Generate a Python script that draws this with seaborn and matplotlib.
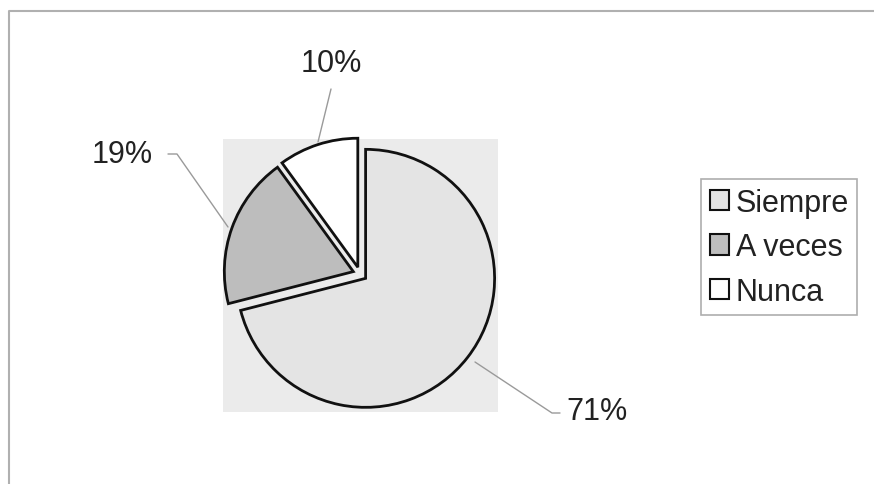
import matplotlib
matplotlib.use("Agg")
import matplotlib.pyplot as plt
import seaborn as sns

# data
categories = ["Siempre", "A veces", "Nunca"]
values = [71, 19, 10]
colors = ["#e4e4e4", "#bdbdbd", "#ffffff"]

W, H = 874, 485
R = 129.0           # pie radius in pixels
CX, CY = 360, 275   # pie centre in pixels (from top)

sns.set_style("white")
plt.rcParams["font.family"] = ["Liberation Sans", "DejaVu Sans"]


def px(x, y):
    # pixel coords (top-left origin) -> data units (radius = 1)
    return (x - CX) / R, (CY - y) / R


fig = plt.figure(figsize=(W / 100, H / 100), dpi=100)
ax = fig.add_axes([0, 0, 1, 1])
x0, y0 = px(0, H)
x1, y1 = px(W, 0)

# plot area background
ra, rb = px(223, 413)
rc, rd = px(498, 140)
ax.add_patch(plt.Rectangle((ra, rb), rc - ra, rd - rb, facecolor="#ebebeb",
                           edgecolor="none", zorder=0))

wedges, _ = ax.pie(values, colors=colors, startangle=90, counterclock=False,
                   explode=[0.055] * 3, radius=1.0, center=(0, 0),
                   wedgeprops=dict(edgecolor="#111111", linewidth=2.0),
                   frame=True)
ax.set_xlim(x0, x1)
ax.set_ylim(y0, y1)
ax.set_aspect("equal")
ax.axis("off")

# labels with leader lines
label_pos = [(597, 412), (122, 155), (331, 64)]
leaders = [
    [(560, 414), (552, 414), (475, 363)],
    [(168, 155), (177, 155), (228, 228)],
    [(331, 90), (318, 143)],
]
for v, (lx, ly), pts in zip(values, label_pos, leaders):
    tx, ty = px(lx, ly)
    ax.text(tx, ty, f"{v}%", fontsize=22, color="#222222", ha="center", va="center")
    xs, ys = zip(*[px(a, b) for a, b in pts])
    ax.plot(xs, ys, color="#9a9a9a", lw=1.0, zorder=5)

# outer chart frame (only top and left visible in the scan)
fx, fy = px(9, 12)
fx2, _ = px(W, 12)
_, fy2 = px(9, H)
ax.plot([fx2, fx, fx], [fy, fy, fy2], color="#b0b0b0", lw=1.5, clip_on=False)

leg = fig.legend(wedges, categories, loc="upper left",
                 bbox_to_anchor=(701 / W, 1 - 180 / H),
                 fontsize=22, frameon=True, fancybox=False,
                 handlelength=0.65, handleheight=0.65, handletextpad=0.2,
                 labelspacing=0.48, borderpad=0.28, borderaxespad=0)
leg.get_frame().set_edgecolor("#9a9a9a")
leg.get_frame().set_linewidth(1.2)
for t in leg.get_texts():
    t.set_color("#222222")
for h in leg.legend_handles:
    h.set_linewidth(1.5)

fig.savefig("out.png", dpi=100)
